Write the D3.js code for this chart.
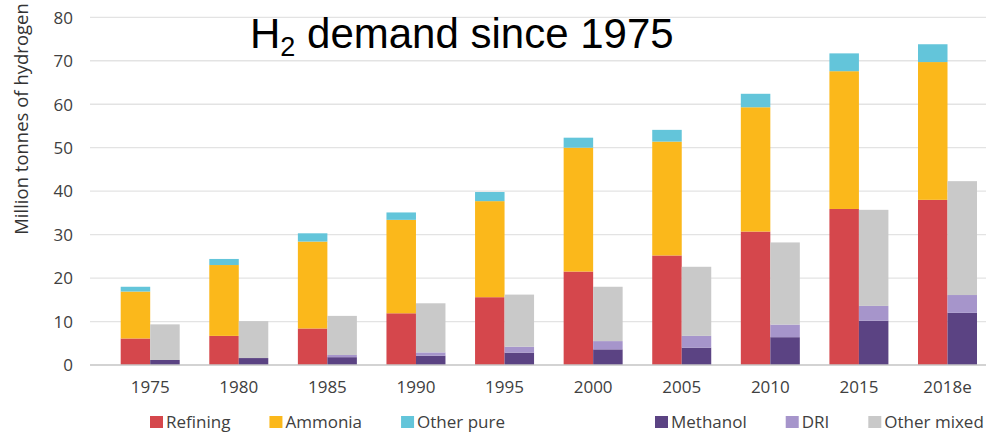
<!DOCTYPE html>
<html>
<head>
<meta charset="utf-8">
<script src="https://cdn.jsdelivr.net/npm/d3@7"></script>
<style>
  html, body { margin: 0; padding: 0; background: #fff; }
  svg { display: block; }
</style>
</head>
<body>
<svg id="chart" width="986" height="432"></svg>
<script>
// Hydrogen demand by end use, million tonnes
const years = ["1975", "1980", "1985", "1990", "1995", "2000", "2005", "2010", "2015", "2018e"];

// Pure hydrogen uses
const refining  = [6.1, 6.7, 8.4, 11.9, 15.6, 21.5, 25.2, 30.7, 35.9, 38.0];
const ammonia   = [10.8, 16.3, 20.0, 21.5, 22.1, 28.5, 26.2, 28.6, 31.7, 31.7];
const otherPure = [1.1, 1.4, 1.9, 1.7, 2.1, 2.3, 2.7, 3.1, 4.1, 4.1];

// Mixed-gas hydrogen uses
const methanol   = [1.15, 1.6, 1.8, 2.15, 2.85, 3.6, 4.0, 6.4, 10.2, 12.0];
const dri        = [0, 0, 0.5, 0.75, 1.35, 1.9, 2.7, 2.9, 3.4, 4.1];
const otherMixed = [8.2, 8.5, 9.0, 11.3, 12.0, 12.5, 15.9, 18.9, 22.1, 26.2];

const yTicks = [0, 10, 20, 30, 40, 50, 60, 70, 80];

const seriesNames = ["Refining", "Ammonia", "Other pure", "Methanol", "DRI", "Other mixed"];
const colors = ["#d5474c", "#fbb81b", "#63c5da", "#5b4383", "#a695cb", "#c9c9c9"];

const pureSeries = [
  { name: "Refining", values: refining },
  { name: "Ammonia", values: ammonia },
  { name: "Other pure", values: otherPure }
];
const mixedSeries = [
  { name: "Methanol", values: methanol },
  { name: "DRI", values: dri },
  { name: "Other mixed", values: otherMixed }
];

const svg = d3.select("#chart");
const W = 986;
const font = "'Open Sans', 'Noto Sans', sans-serif";

const y = d3.scaleLinear().domain([0, 80]).range([365, 17.3]);
const x = d3.scaleBand().domain(years).range([105.9, 991.8])
  .paddingInner(0.334).paddingOuter(0.167);
const xSub = d3.scaleBand().domain(["pure", "mixed"]).range([0, x.bandwidth()]);
const color = d3.scaleOrdinal().domain(seriesNames).range(colors);

// Horizontal gridlines
const gridLeft = 90;
svg.append("g")
  .selectAll("line")
  .data(yTicks.filter(t => t > 0))
  .join("line")
  .attr("x1", gridLeft).attr("x2", W)
  .attr("y1", d => y(d)).attr("y2", d => y(d))
  .attr("stroke", "#e3e3e3").attr("stroke-width", 1.3);

// Y axis labels
const yAxis = d3.axisLeft(y).tickValues(yTicks).tickSize(0).tickPadding(0);
const yg = svg.append("g").attr("transform", "translate(73,0)").call(yAxis);
yg.select(".domain").remove();
yg.selectAll("text")
  .attr("font-family", font).attr("font-size", 17).attr("fill", "#404040")
  .attr("dy", "0.34em");

// Stacked bars
function drawStack(seriesList, slot) {
  const rows = years.map((yr, i) => {
    const r = { year: yr };
    seriesList.forEach(s => { r[s.name] = s.values[i]; });
    return r;
  });
  const stacked = d3.stack().keys(seriesList.map(s => s.name))(rows);
  svg.append("g")
    .selectAll("g")
    .data(stacked)
    .join("g")
    .attr("fill", d => color(d.key))
    .selectAll("rect")
    .data(d => d)
    .join("rect")
    .attr("x", d => x(d.data.year) + xSub(slot))
    .attr("width", xSub.bandwidth())
    .attr("y", d => y(d[1]))
    .attr("height", d => Math.max(0, y(d[0]) - y(d[1])));
}
drawStack(pureSeries, "pure");
drawStack(mixedSeries, "mixed");

// Baseline
svg.append("line")
  .attr("x1", gridLeft).attr("x2", W)
  .attr("y1", y(0)).attr("y2", y(0))
  .attr("stroke", "#c4c4c4").attr("stroke-width", 1.5);

// X axis labels
const xAxis = d3.axisBottom(x).tickSize(0).tickPadding(0);
const xg = svg.append("g").attr("transform", "translate(0,393)").call(xAxis);
xg.select(".domain").remove();
xg.selectAll("text")
  .attr("font-family", font).attr("font-size", 17).attr("fill", "#404040")
  .attr("dy", 0);

// Y axis title
svg.append("text")
  .attr("transform", "translate(28,119) rotate(-90)")
  .attr("text-anchor", "middle")
  .attr("font-family", font).attr("font-size", 18.5).attr("fill", "#333")
  .text("Million tonnes of hydrogen");

// Chart title with subscript
const title = svg.append("text")
  .attr("x", 250).attr("y", 48)
  .attr("font-family", "'Liberation Sans', Arial, sans-serif")
  .attr("font-size", 42).attr("fill", "#000");
title.append("tspan").text("H");
title.append("tspan").attr("font-size", 27).attr("dy", 8).text("2");
title.append("tspan").attr("dy", -8).text(" demand since 1975");

// Legend: two groups (pure / mixed)
const legendGroups = [
  { startX: 150, names: ["Refining", "Ammonia", "Other pure"] },
  { startX: 655, names: ["Methanol", "DRI", "Other mixed"] }
];
const legend = svg.append("g");
legendGroups.forEach(g => {
  let cx = g.startX;
  g.names.forEach(name => {
    legend.append("rect")
      .attr("x", cx).attr("y", 416).attr("width", 13).attr("height", 12)
      .attr("fill", color(name));
    const t = legend.append("text")
      .attr("x", cx + 16).attr("y", 428)
      .attr("font-family", font).attr("font-size", 17).attr("fill", "#404040")
      .text(name);
    cx += 16 + t.node().getComputedTextLength() + 39;
  });
});
</script>
</body>
</html>
